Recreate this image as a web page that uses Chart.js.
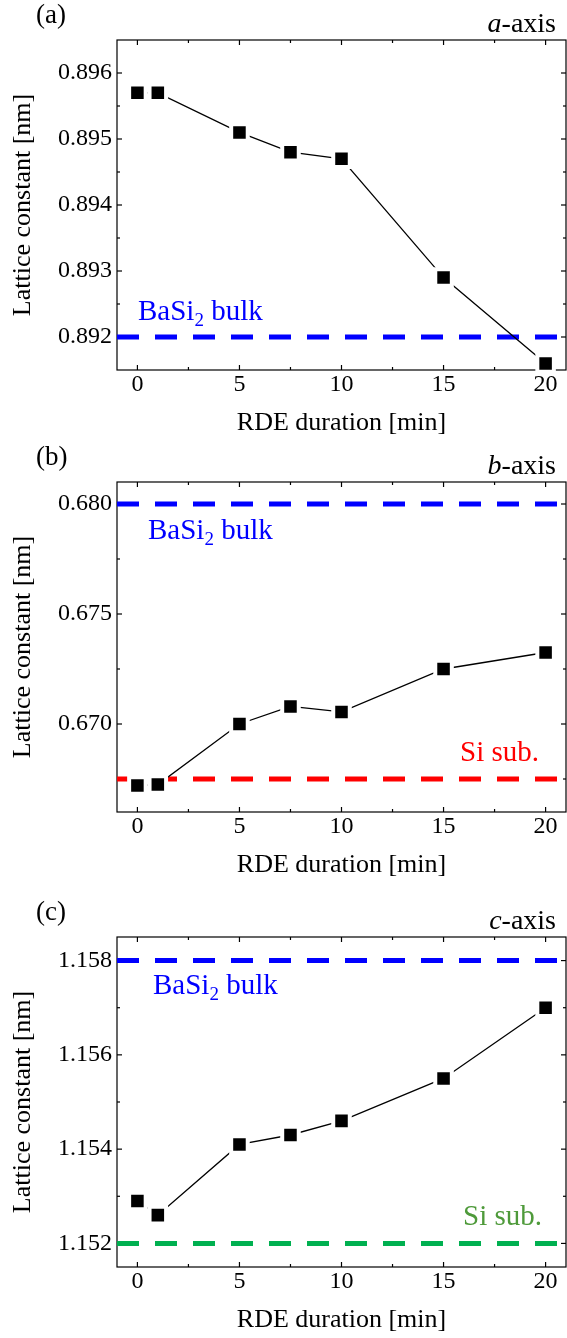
<!DOCTYPE html>
<html>
<head>
<meta charset="utf-8">
<script src="https://cdn.jsdelivr.net/npm/chart.js@4.4.1/dist/chart.umd.min.js"></script>
<style>
  html, body { margin: 0; padding: 0; background: #fff; }
  body { width: 567px; height: 1338px; position: relative; overflow: hidden; }
  .panel { position: absolute; left: 0; width: 567px; height: 440px; }
  .panel canvas { display: block; }
</style>
</head>
<body>
<div class="panel" style="top:0px"><canvas id="chartA" width="567" height="440"></canvas></div>
<div class="panel" style="top:442px"><canvas id="chartB" width="567" height="440"></canvas></div>
<div class="panel" style="top:897px"><canvas id="chartC" width="567" height="440"></canvas></div>
<script>
// RDE growth time of each sample [min]
const rdeMinutes = [0, 1, 5, 7.5, 10, 15, 20];

// Measured lattice constants [nm]
const aAxisNm = [0.8957, 0.8957, 0.8951, 0.8948, 0.8947, 0.8929, 0.8916];
const bAxisNm = [0.6672, 0.66725, 0.6700, 0.6708, 0.67055, 0.6725, 0.67325];
const cAxisNm = [1.1529, 1.1526, 1.1541, 1.1543, 1.1546, 1.1555, 1.1570];

// Reference values [nm]
const bulkA = 0.892;
const bulkB = 0.680;
const bulkC = 1.158;
const siSubB = 0.6675;
const siSubC = 1.152;

// Tick values
const xTicks = [0, 5, 10, 15, 20];
const xMinorTicks = [2.5, 7.5, 12.5, 17.5];
const aTicks = [0.892, 0.893, 0.894, 0.895, 0.896];
const aMinorTicks = [0.8925, 0.8935, 0.8945, 0.8955];
const bTicks = [0.670, 0.675, 0.680];
const bMinorTicks = [0.6675, 0.6725, 0.6775];
const cTicks = [1.152, 1.154, 1.156, 1.158];
const cMinorTicks = [1.153, 1.155, 1.157];

const SERIF = '"Liberation Serif", "Times New Roman", serif';
const BLUE = '#0000ff';
const RED = '#ff0000';
const GREEN_LINE = '#00b050';
const GREEN_TEXT = '#4e9a3a';

// Box frame with inward major/minor ticks on all four sides
const framePlugin = {
  id: 'frame',
  beforeDatasetsDraw(chart, args, opts) {
    const { ctx, chartArea: { left, right, top, bottom }, scales: { x, y } } = chart;
    ctx.save();
    ctx.strokeStyle = '#000';
    ctx.lineWidth = 1.2;
    ctx.strokeRect(left, top, right - left, bottom - top);
    const seg = (x1, y1, x2, y2) => { ctx.beginPath(); ctx.moveTo(x1, y1); ctx.lineTo(x2, y2); ctx.stroke(); };
    const xMarks = (vals, len) => vals.forEach(v => {
      const px = x.getPixelForValue(v);
      seg(px, bottom, px, bottom - len);
      seg(px, top, px, top + len);
    });
    const yMarks = (vals, len) => vals.forEach(v => {
      const py = y.getPixelForValue(v);
      seg(left, py, left + len, py);
      seg(right, py, right - len, py);
    });
    xMarks(opts.xMajor, 5);
    xMarks(opts.xMinor, 3);
    yMarks(opts.yMajor, 5);
    yMarks(opts.yMinor, 3);
    ctx.restore();
  }
};

// Draws a run of text pieces (with optional subscripts)
function drawPieces(ctx, pieces, x, baseline, align, color, size) {
  const mainFont = size + 'px ' + SERIF;
  const subFont = Math.round(size * 0.66) + 'px ' + SERIF;
  ctx.save();
  ctx.fillStyle = color;
  ctx.textBaseline = 'alphabetic';
  ctx.textAlign = 'left';
  let total = 0;
  const widths = pieces.map(p => {
    ctx.font = p.sub ? subFont : (p.italic ? 'italic ' + mainFont : mainFont);
    const w = ctx.measureText(p.t).width;
    total += w;
    return w;
  });
  let cx = align === 'right' ? x - total : x;
  pieces.forEach((p, i) => {
    ctx.font = p.sub ? subFont : (p.italic ? 'italic ' + mainFont : mainFont);
    ctx.fillText(p.t, cx, baseline + (p.sub ? 6 : 0));
    cx += widths[i];
  });
  ctx.restore();
}

// Panel tag, axis name and the reference-line captions
const labelPlugin = {
  id: 'panelLabels',
  afterDraw(chart, args, opts) {
    const { ctx, chartArea: { left, right, top }, scales: { y } } = chart;
    drawPieces(ctx, [{ t: opts.tag }], 36, top - 17, 'left', '#000', 27);
    drawPieces(ctx, [{ t: opts.axisLetter, italic: true }, { t: '-axis' }], 556, top - 8, 'right', '#000', 28);
    opts.captions.forEach(c => {
      const base = y.getPixelForValue(c.value) + c.dy;
      const px = c.align === 'right' ? right - c.dx : left + c.dx;
      drawPieces(ctx, c.pieces, px, base, c.align, c.color, 29);
    });
  }
};

function refLine(value, color) {
  return {
    data: [{ x: -1, y: value }, { x: 21, y: value }],
    borderColor: color,
    borderWidth: 5,
    borderDash: [22, 16],
    borderCapStyle: 'butt',
    pointRadius: 0,
    fill: false
  };
}

const noEdgePadding = s => {
  s.paddingLeft = 0;
  s.paddingRight = 0;
  s.paddingTop = 0;
  s.paddingBottom = 0;
};

function makePanel(canvasId, values, yMin, yMax, yTicks, yMinor, refs, tag, letter, captions) {
  const series = {
    data: rdeMinutes.map((m, i) => ({ x: m, y: values[i] })),
    borderColor: '#000',
    borderWidth: 1.3,
    pointStyle: 'rect',
    pointRadius: 11.7,
    pointBackgroundColor: '#000',
    pointBorderColor: '#fff',
    pointBorderWidth: 4,
    tension: 0,
    clip: false,
    fill: false
  };
  new Chart(document.getElementById(canvasId), {
    type: 'line',
    data: { datasets: [series, ...refs.map(r => refLine(r.value, r.color))] },
    options: {
      responsive: false,
      animation: false,
      events: [],
      layout: { autoPadding: false, padding: { top: 40, right: 1, left: 0, bottom: 0 } },
      plugins: {
        legend: { display: false },
        tooltip: { enabled: false },
        frame: { xMajor: xTicks, xMinor: xMinorTicks, yMajor: yTicks, yMinor: yMinor },
        panelLabels: { tag: tag, axisLetter: letter, captions: captions }
      },
      scales: {
        x: {
          type: 'linear',
          min: -1,
          max: 21,
          afterFit: s => { s.height = 70; noEdgePadding(s); },
          afterBuildTicks: s => { s.ticks = xTicks.map(v => ({ value: v })); },
          grid: { display: false, drawTicks: false, tickLength: 0 },
          border: { display: false },
          ticks: {
            font: { family: SERIF, size: 24 },
            color: '#000',
            padding: 0,
            autoSkip: false,
            maxRotation: 0,
            callback: v => String(v)
          },
          title: {
            display: true,
            text: 'RDE duration [min]',
            font: { family: SERIF, size: 26 },
            color: '#000',
            padding: { top: 0, bottom: 1 }
          }
        },
        y: {
          type: 'linear',
          min: yMin,
          max: yMax,
          afterFit: s => { s.width = 117; noEdgePadding(s); },
          afterBuildTicks: s => { s.ticks = yTicks.map(v => ({ value: v })); },
          grid: { display: false, drawTicks: false, tickLength: 0 },
          border: { display: false },
          ticks: {
            font: { family: SERIF, size: 24 },
            color: '#000',
            padding: 5,
            callback: v => Number(v).toFixed(3)
          },
          title: {
            display: true,
            text: 'Lattice constant [nm]',
            font: { family: SERIF, size: 26 },
            color: '#000',
            padding: { top: 8, bottom: 0 }
          }
        }
      }
    },
    plugins: [framePlugin, labelPlugin]
  });
}

const basi2Text = [{ t: 'BaSi' }, { t: '2', sub: true }, { t: ' bulk' }];
const siText = [{ t: 'Si sub.' }];

makePanel('chartA', aAxisNm, 0.8915, 0.8965, aTicks, aMinorTicks,
  [{ value: bulkA, color: BLUE }], '(a)', 'a',
  [{ pieces: basi2Text, value: bulkA, dx: 21, dy: -17, align: 'left', color: BLUE }]);

makePanel('chartB', bAxisNm, 0.666, 0.681, bTicks, bMinorTicks,
  [{ value: bulkB, color: BLUE }, { value: siSubB, color: RED }], '(b)', 'b',
  [{ pieces: basi2Text, value: bulkB, dx: 31, dy: 35, align: 'left', color: BLUE },
   { pieces: siText, value: siSubB, dx: 27, dy: -18, align: 'right', color: RED }]);

makePanel('chartC', cAxisNm, 1.1515, 1.1585, cTicks, cMinorTicks,
  [{ value: bulkC, color: BLUE }, { value: siSubC, color: GREEN_LINE }], '(c)', 'c',
  [{ pieces: basi2Text, value: bulkC, dx: 36, dy: 33, align: 'left', color: BLUE },
   { pieces: siText, value: siSubC, dx: 24, dy: -18, align: 'right', color: GREEN_TEXT }]);
</script>
</body>
</html>
